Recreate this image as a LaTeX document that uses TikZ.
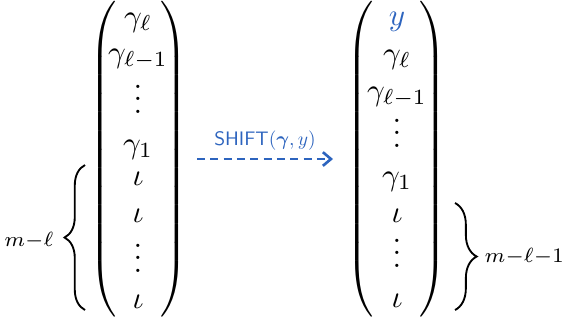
\documentclass[tikz,border=0pt]{standalone}
\usepackage{amsmath}
\usetikzlibrary{arrows.meta,decorations.pathreplacing}
\definecolor{shiftblue}{RGB}{45,100,190}
\begin{document}
\begin{tikzpicture}[x=0.3226pt,y=-0.3226pt,
  entry/.style={inner sep=0pt,anchor=base},
  delim/.style={inner sep=0pt},
  bracelabel/.style={inner sep=0pt,scale=0.95},
  curlybrace/.style={line width=0.6pt,decorate,decoration={brace,amplitude=#1}},
  shiftarrow/.style={shiftblue,line width=0.85pt,dash pattern=on 2.6pt off 1.7pt,
    -{Straight Barb[length=2.6pt,width=4.4pt]}}]
\useasboundingbox (0,0) rectangle (562,320);
\nulldelimiterspace=0pt
% left vector
\node[delim] (lL) at (103,159) {$\left(\vcenter{\hrule height 103pt width 0pt}\right.$};
\node[delim] (lR) at (174,159) {$\left.\vcenter{\hrule height 103pt width 0pt}\right)$};
\node[entry] (l1) at (138,26) {$\gamma_\ell$};
\node[entry] (l2) at (138,62) {$\gamma_{\ell-1}$};
\node[entry] (l3) at (138,113) {$\vdots$};
\node[entry] (l4) at (138,153) {$\gamma_1$};
\node[entry] (l5) at (138,185) {$\iota$};
\node[entry] (l6) at (138,222) {$\iota$};
\node[entry] (l7) at (138,272) {$\vdots$};
\node[entry] (l8) at (138,308) {$\iota$};
% left brace
\coordinate (lbB) at (85,310);
\coordinate (lbT) at (85,165);
\draw[curlybrace=6.6pt] (lbB) -- (lbT);
\node[bracelabel,anchor=base east] (lbl) at (54,246) {$\scriptstyle m-\ell$};
% right vector
\node[delim] (rL) at (360,159) {$\left(\vcenter{\hrule height 103pt width 0pt}\right.$};
\node[delim] (rR) at (433,159) {$\left.\vcenter{\hrule height 103pt width 0pt}\right)$};
\node[entry] (r1) at (397,25) {$\color{shiftblue}y$};
\node[entry] (r2) at (397,63) {$\gamma_\ell$};
\node[entry] (r3) at (397,100) {$\gamma_{\ell-1}$};
\node[entry] (r4) at (397,147) {$\vdots$};
\node[entry] (r5) at (397,185) {$\gamma_1$};
\node[entry] (r6) at (397,222) {$\iota$};
\node[entry] (r7) at (397,267) {$\vdots$};
\node[entry] (r8) at (397,307) {$\iota$};
% right brace
\coordinate (rbT) at (455,203);
\coordinate (rbB) at (455,310);
\draw[curlybrace=7pt] (rbT) -- (rbB);
\node[bracelabel,anchor=base west] (rbl) at (484,262) {$\scriptstyle m-\ell-1$};
% arrow
\coordinate (as) at (197,159);
\coordinate (ae) at (333,159);
\draw[shiftarrow] (as) -- (ae);
\node[entry,text=shiftblue,scale=0.63] (lab) at (265,145) {$\mathsf{SHIFT}(\boldsymbol{\gamma},y)$};
\end{tikzpicture}
\end{document}
